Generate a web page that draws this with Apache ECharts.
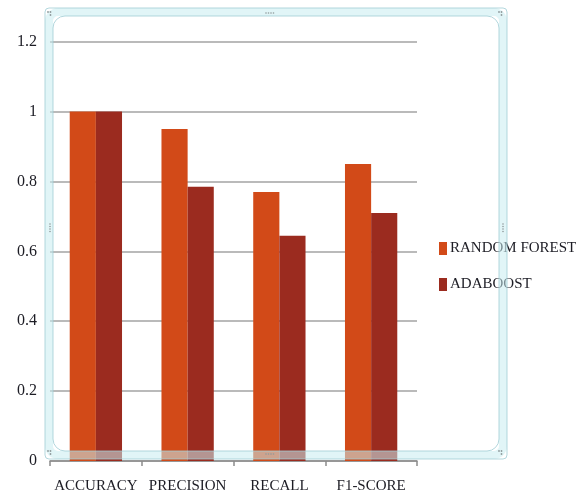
<!DOCTYPE html>
<html>
<head>
<meta charset="utf-8">
<style>
  html, body { margin: 0; padding: 0; background: #ffffff; }
  #chart { width: 586px; height: 495px; }
</style>
<script src="https://cdn.jsdelivr.net/npm/echarts@6/dist/echarts.min.js"></script>
</head>
<body>
<div id="chart"></div>
<script>
// Metric names along the category axis
var categories = ['ACCURACY', 'PRECISION', 'RECALL', 'F1-SCORE'];
// Scores for each classifier
var randomForest = [1.0, 0.95, 0.77, 0.85];
var adaBoost = [1.0, 0.785, 0.645, 0.71];
var seriesNames = ['RANDOM FOREST', 'ADABOOST'];

var FONT = '"Liberation Serif", "Times New Roman", serif';
var TEXT = '#1c1c24';

var chart = echarts.init(document.getElementById('chart'), null, { renderer: 'canvas' });

// Dotted sizing grips of the chart frame
function grip(x, y, vertical) {
  var dots = [];
  for (var i = 0; i < 4; i++) {
    dots.push({
      type: 'circle',
      shape: vertical ? { cx: x, cy: y + i * 2.5, r: 0.8 } : { cx: x + i * 2.5, cy: y, r: 0.8 },
      style: { fill: '#8f9a9c' },
      z: 20
    });
  }
  return dots;
}
function cornerGrip(x, y) {
  return [
    { type: 'circle', shape: { cx: x, cy: y, r: 0.9 }, style: { fill: '#8f9a9c' }, z: 20 },
    { type: 'circle', shape: { cx: x + 2.5, cy: y, r: 0.9 }, style: { fill: '#8f9a9c' }, z: 20 },
    { type: 'circle', shape: { cx: x + 2.5, cy: y + 3, r: 0.9 }, style: { fill: '#8f9a9c' }, z: 20 }
  ];
}

var frame = [
  {
    type: 'rect',
    shape: { x: 49, y: 12, width: 454, height: 443, r: 9 },
    style: { fill: 'none', stroke: 'rgba(200,236,240,0.55)', lineWidth: 8 },
    z: 15
  },
  {
    type: 'rect',
    shape: { x: 45, y: 8, width: 462, height: 451, r: 4 },
    style: { fill: 'none', stroke: 'rgba(160,205,212,0.8)', lineWidth: 1 },
    z: 16
  },
  {
    type: 'rect',
    shape: { x: 53, y: 16, width: 446, height: 435, r: 12 },
    style: { fill: 'none', stroke: 'rgba(160,205,212,0.8)', lineWidth: 1 },
    z: 16
  }
]
  .concat(grip(266, 13, false))
  .concat(grip(266, 454, false))
  .concat(grip(50, 224, true))
  .concat(grip(503, 224, true))
  .concat(cornerGrip(48, 12))
  .concat(cornerGrip(499, 12))
  .concat(cornerGrip(48, 451))
  .concat(cornerGrip(499, 451));

chart.setOption({
  animation: false,
  backgroundColor: '#ffffff',
  textStyle: { fontFamily: FONT },
  grid: { left: 50, right: 169, top: 41.7, bottom: 34, containLabel: false },
  legend: {
    orient: 'vertical',
    left: 434,
    top: 236,
    itemWidth: 8,
    itemHeight: 13,
    itemGap: 21,
    icon: 'rect',
    data: seriesNames,
    textStyle: { fontFamily: FONT, fontSize: 15, color: TEXT, padding: [0, 0, 0, -2] }
  },
  xAxis: {
    type: 'category',
    data: categories,
    boundaryGap: true,
    axisLine: { show: true, lineStyle: { color: '#8c8c8c', width: 1.5 } },
    axisTick: { show: true, length: 5, alignWithLabel: false, lineStyle: { color: '#8c8c8c', width: 1.5 } },
    axisLabel: { fontFamily: FONT, fontSize: 15, color: TEXT, margin: 18, interval: 0, hideOverlap: false }
  },
  yAxis: {
    type: 'value',
    min: 0,
    max: 1.2,
    interval: 0.2,
    axisLine: { show: false },
    axisTick: { show: false },
    axisLabel: { fontFamily: FONT, fontSize: 16, color: TEXT, margin: 13 },
    splitLine: { show: true, lineStyle: { color: '#a3a3a3', width: 1.5 } }
  },
  series: [
    {
      name: seriesNames[0],
      type: 'bar',
      data: randomForest,
      barGap: '0%',
      barCategoryGap: '43%',
      itemStyle: { color: '#d24a18' }
    },
    {
      name: seriesNames[1],
      type: 'bar',
      data: adaBoost,
      itemStyle: { color: '#9b2b1f' }
    }
  ],
  graphic: frame
});
</script>
</body>
</html>
